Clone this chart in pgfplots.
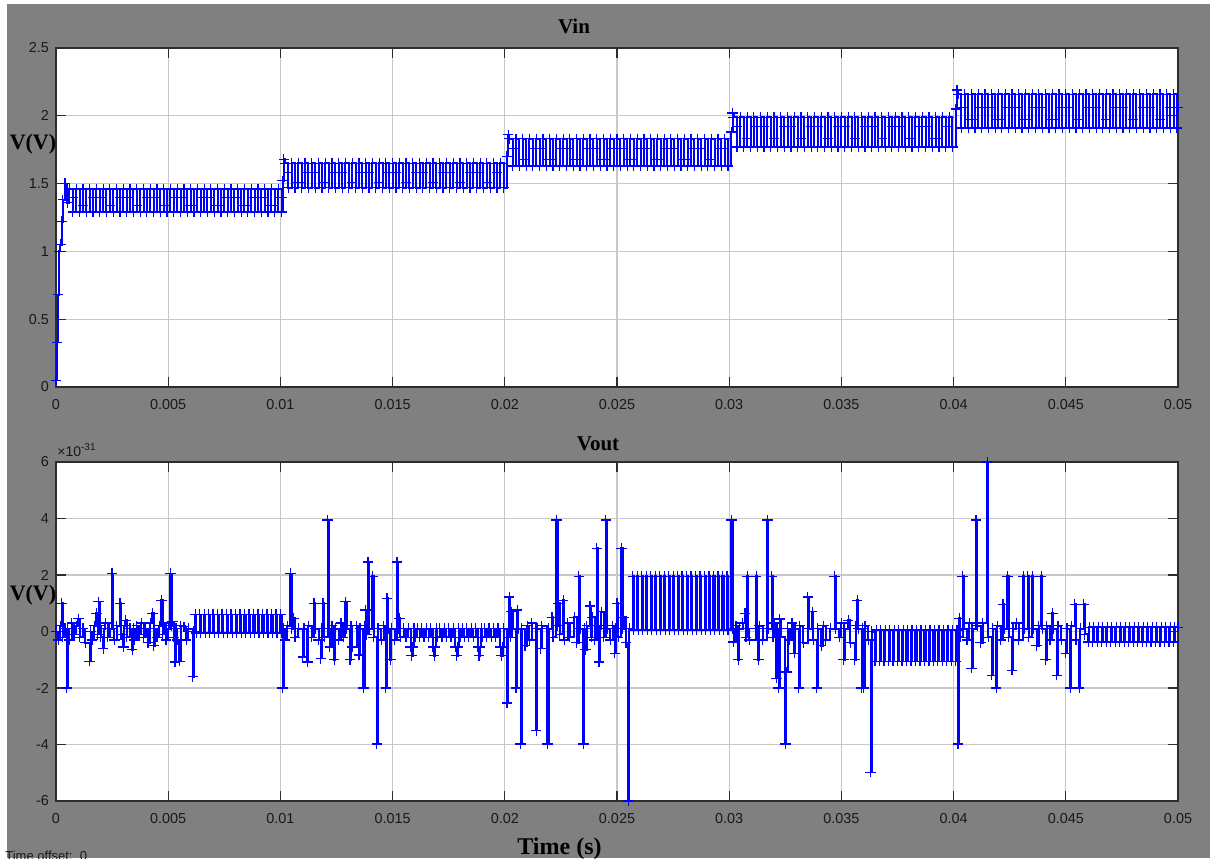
\documentclass[border=0pt]{standalone}
\usepackage{fontspec}
\setmainfont{Liberation Sans}
\newfontfamily\timesfont{Liberation Serif}
\usepackage{pgfplots}
\pgfplotsset{compat=1.18}
\definecolor{bggray}{RGB}{128,128,128}
\definecolor{gridgray}{RGB}{200,200,200}
\definecolor{axdark}{RGB}{45,45,45}
\definecolor{lblack}{RGB}{25,25,25}
\pgfplotsset{scopestyle/.style={
  scale only axis, width=561pt, height=169.5pt,
  anchor=south west,
  xmin=0, xmax=0.05,
  axis background/.style={fill=white},
  axis line style={axdark, line width=0.8pt},
  grid=major, major grid style={gridgray, line width=0.6pt},
  tick align=inside, tick pos=both, major tick length=5pt,
  tick style={axdark, line width=0.6pt},
  xtick={0,0.005,0.01,0.015,0.02,0.025,0.03,0.035,0.04,0.045,0.05},
  xticklabels={0,0.005,0.01,0.015,0.02,0.025,0.03,0.035,0.04,0.045,0.05},
  ticklabel style={font=\fontsize{7.2}{8}\selectfont, text=lblack},
  xticklabel style={yshift=-2.5pt},
  scaled ticks=false,
},
sig/.style={blue, line width=1.0pt, const plot, mark=+, mark size=2.6pt, mark options={blue, line width=0.6pt, solid}}}
\begin{document}
\begin{tikzpicture}
\useasboundingbox (0,0) rectangle (605pt,429pt);
\clip (0,0) rectangle (605pt,429pt);
\fill[white] (0,0) rectangle (605pt,429pt);
\fill[bggray] (3.5pt,0) rectangle (605pt,427pt);
\begin{axis}[scopestyle, at={(28pt,235.5pt)}, ymin=0, ymax=2.5,
  ytick={0,0.5,1,1.5,2,2.5}, yticklabels={0,0.5,1,1.5,2,2.5}]
\addplot[sig] coordinates {
(0,0.05)(0.00005,0.33)(0.0001,0.68)(0.00015,1.0)(0.0002,1.05)(0.00025,1.22)(0.0003,1.38)(0.0004,1.5)(0.0005,1.36)
(0.0006,1.46)(0.00075,1.40)(0.00075,1.29)(0.0009,1.46)(0.00105,1.29)(0.0012,1.34)(0.0012,1.46)(0.00135,1.29)(0.0015,1.46)(0.00165,1.40)(0.00165,1.29)
(0.0018,1.46)(0.00195,1.40)(0.00195,1.29)(0.0021,1.46)(0.00225,1.29)(0.0024,1.34)(0.0024,1.46)(0.00255,1.29)(0.0027,1.46)(0.00285,1.40)(0.00285,1.29)
(0.0030,1.46)(0.00315,1.40)(0.00315,1.29)(0.0033,1.46)(0.00345,1.29)(0.0036,1.34)(0.0036,1.46)(0.00375,1.29)(0.0039,1.46)(0.00405,1.40)(0.00405,1.29)
(0.0042,1.46)(0.00435,1.40)(0.00435,1.29)(0.0045,1.46)(0.00465,1.29)(0.0048,1.34)(0.0048,1.46)(0.00495,1.29)(0.0051,1.46)(0.00525,1.40)(0.00525,1.29)
(0.0054,1.46)(0.00555,1.40)(0.00555,1.29)(0.0057,1.46)(0.00585,1.29)(0.0060,1.34)(0.0060,1.46)(0.00615,1.29)(0.0063,1.46)(0.00645,1.40)(0.00645,1.29)
(0.0066,1.46)(0.00675,1.40)(0.00675,1.29)(0.0069,1.46)(0.00705,1.29)(0.0072,1.34)(0.0072,1.46)(0.00735,1.29)(0.0075,1.46)(0.00765,1.40)(0.00765,1.29)
(0.0078,1.46)(0.00795,1.40)(0.00795,1.29)(0.0081,1.46)(0.00825,1.29)(0.0084,1.34)(0.0084,1.46)(0.00855,1.29)(0.0087,1.46)(0.00885,1.40)(0.00885,1.29)
(0.0090,1.46)(0.00915,1.40)(0.00915,1.29)(0.0093,1.46)(0.00945,1.29)(0.0096,1.34)(0.0096,1.46)(0.00975,1.29)(0.0099,1.46)(0.01005,1.40)(0.01005,1.29)
(0.0101,1.52)(0.01015,1.68)
(0.0102,1.65)(0.01035,1.58)(0.01035,1.47)(0.0105,1.65)(0.01065,1.47)(0.0108,1.51)(0.0108,1.65)(0.01095,1.47)(0.0111,1.65)(0.01125,1.58)(0.01125,1.47)
(0.0114,1.65)(0.01155,1.58)(0.01155,1.47)(0.0117,1.65)(0.01185,1.47)(0.0120,1.51)(0.0120,1.65)(0.01215,1.47)(0.0123,1.65)(0.01245,1.58)(0.01245,1.47)
(0.0126,1.65)(0.01275,1.58)(0.01275,1.47)(0.0129,1.65)(0.01305,1.47)(0.0132,1.51)(0.0132,1.65)(0.01335,1.47)(0.0135,1.65)(0.01365,1.58)(0.01365,1.47)
(0.0138,1.65)(0.01395,1.58)(0.01395,1.47)(0.0141,1.65)(0.01425,1.47)(0.0144,1.51)(0.0144,1.65)(0.01455,1.47)(0.0147,1.65)(0.01485,1.58)(0.01485,1.47)
(0.0150,1.65)(0.01515,1.58)(0.01515,1.47)(0.0153,1.65)(0.01545,1.47)(0.0156,1.51)(0.0156,1.65)(0.01575,1.47)(0.0159,1.65)(0.01605,1.58)(0.01605,1.47)
(0.0162,1.65)(0.01635,1.58)(0.01635,1.47)(0.0165,1.65)(0.01665,1.47)(0.0168,1.51)(0.0168,1.65)(0.01695,1.47)(0.0171,1.65)(0.01725,1.58)(0.01725,1.47)
(0.0174,1.65)(0.01755,1.58)(0.01755,1.47)(0.0177,1.65)(0.01785,1.47)(0.0180,1.51)(0.0180,1.65)(0.01815,1.47)(0.0183,1.65)(0.01845,1.58)(0.01845,1.47)
(0.0186,1.65)(0.01875,1.58)(0.01875,1.47)(0.0189,1.65)(0.01905,1.47)(0.0192,1.51)(0.0192,1.65)(0.01935,1.47)(0.0195,1.65)(0.01965,1.58)(0.01965,1.47)
(0.0198,1.65)(0.01995,1.47)
(0.0201,1.70)(0.02015,1.86)
(0.0202,1.83)(0.02035,1.76)(0.02035,1.63)(0.0205,1.83)(0.02065,1.63)(0.0208,1.68)(0.0208,1.83)(0.02095,1.63)(0.0211,1.83)(0.02125,1.76)(0.02125,1.63)
(0.0214,1.83)(0.02155,1.76)(0.02155,1.63)(0.0217,1.83)(0.02185,1.63)(0.0220,1.68)(0.0220,1.83)(0.02215,1.63)(0.0223,1.83)(0.02245,1.76)(0.02245,1.63)
(0.0226,1.83)(0.02275,1.76)(0.02275,1.63)(0.0229,1.83)(0.02305,1.63)(0.0232,1.68)(0.0232,1.83)(0.02335,1.63)(0.0235,1.83)(0.02365,1.76)(0.02365,1.63)
(0.0238,1.83)(0.02395,1.76)(0.02395,1.63)(0.0241,1.83)(0.02425,1.63)(0.0244,1.68)(0.0244,1.83)(0.02455,1.63)(0.0247,1.83)(0.02485,1.76)(0.02485,1.63)
(0.0250,1.83)(0.02515,1.76)(0.02515,1.63)(0.0253,1.83)(0.02545,1.63)(0.0256,1.68)(0.0256,1.83)(0.02575,1.63)(0.0259,1.83)(0.02605,1.76)(0.02605,1.63)
(0.0262,1.83)(0.02635,1.76)(0.02635,1.63)(0.0265,1.83)(0.02665,1.63)(0.0268,1.68)(0.0268,1.83)(0.02695,1.63)(0.0271,1.83)(0.02725,1.76)(0.02725,1.63)
(0.0274,1.83)(0.02755,1.76)(0.02755,1.63)(0.0277,1.83)(0.02785,1.63)(0.0280,1.68)(0.0280,1.83)(0.02815,1.63)(0.0283,1.83)(0.02845,1.76)(0.02845,1.63)
(0.0286,1.83)(0.02875,1.76)(0.02875,1.63)(0.0289,1.83)(0.02905,1.63)(0.0292,1.68)(0.0292,1.83)(0.02935,1.63)(0.0295,1.83)(0.02965,1.76)(0.02965,1.63)
(0.0298,1.83)(0.02995,1.63)
(0.0301,1.88)(0.03015,2.02)
(0.0302,1.99)(0.03035,1.92)(0.03035,1.77)(0.0305,1.99)(0.03065,1.77)(0.0308,1.83)(0.0308,1.99)(0.03095,1.77)(0.0311,1.99)(0.03125,1.92)(0.03125,1.77)
(0.0314,1.99)(0.03155,1.92)(0.03155,1.77)(0.0317,1.99)(0.03185,1.77)(0.0320,1.83)(0.0320,1.99)(0.03215,1.77)(0.0323,1.99)(0.03245,1.92)(0.03245,1.77)
(0.0326,1.99)(0.03275,1.92)(0.03275,1.77)(0.0329,1.99)(0.03305,1.77)(0.0332,1.83)(0.0332,1.99)(0.03335,1.77)(0.0335,1.99)(0.03365,1.92)(0.03365,1.77)
(0.0338,1.99)(0.03395,1.92)(0.03395,1.77)(0.0341,1.99)(0.03425,1.77)(0.0344,1.83)(0.0344,1.99)(0.03455,1.77)(0.0347,1.99)(0.03485,1.92)(0.03485,1.77)
(0.0350,1.99)(0.03515,1.92)(0.03515,1.77)(0.0353,1.99)(0.03545,1.77)(0.0356,1.83)(0.0356,1.99)(0.03575,1.77)(0.0359,1.99)(0.03605,1.92)(0.03605,1.77)
(0.0362,1.99)(0.03635,1.92)(0.03635,1.77)(0.0365,1.99)(0.03665,1.77)(0.0368,1.83)(0.0368,1.99)(0.03695,1.77)(0.0371,1.99)(0.03725,1.92)(0.03725,1.77)
(0.0374,1.99)(0.03755,1.92)(0.03755,1.77)(0.0377,1.99)(0.03785,1.77)(0.0380,1.83)(0.0380,1.99)(0.03815,1.77)(0.0383,1.99)(0.03845,1.92)(0.03845,1.77)
(0.0386,1.99)(0.03875,1.92)(0.03875,1.77)(0.0389,1.99)(0.03905,1.77)(0.0392,1.83)(0.0392,1.99)(0.03935,1.77)(0.0395,1.99)(0.03965,1.92)(0.03965,1.77)
(0.0398,1.99)(0.03995,1.77)
(0.0401,2.05)(0.04015,2.19)
(0.0402,2.16)(0.04035,2.06)(0.04035,1.91)(0.0405,2.16)(0.04065,1.91)(0.0408,1.97)(0.0408,2.16)(0.04095,1.91)(0.0411,2.16)(0.04125,2.06)(0.04125,1.91)
(0.0414,2.16)(0.04155,2.06)(0.04155,1.91)(0.0417,2.16)(0.04185,1.91)(0.0420,1.97)(0.0420,2.16)(0.04215,1.91)(0.0423,2.16)(0.04245,2.06)(0.04245,1.91)
(0.0426,2.16)(0.04275,2.06)(0.04275,1.91)(0.0429,2.16)(0.04305,1.91)(0.0432,1.97)(0.0432,2.16)(0.04335,1.91)(0.0435,2.16)(0.04365,2.06)(0.04365,1.91)
(0.0438,2.16)(0.04395,2.06)(0.04395,1.91)(0.0441,2.16)(0.04425,1.91)(0.0444,1.97)(0.0444,2.16)(0.04455,1.91)(0.0447,2.16)(0.04485,2.06)(0.04485,1.91)
(0.0450,2.16)(0.04515,2.06)(0.04515,1.91)(0.0453,2.16)(0.04545,1.91)(0.0456,1.97)(0.0456,2.16)(0.04575,1.91)(0.0459,2.16)(0.04605,2.06)(0.04605,1.91)
(0.0462,2.16)(0.04635,2.06)(0.04635,1.91)(0.0465,2.16)(0.04665,1.91)(0.0468,1.97)(0.0468,2.16)(0.04695,1.91)(0.0471,2.16)(0.04725,2.06)(0.04725,1.91)
(0.0474,2.16)(0.04755,2.06)(0.04755,1.91)(0.0477,2.16)(0.04785,1.91)(0.0480,1.97)(0.0480,2.16)(0.04815,1.91)(0.0483,2.16)(0.04845,2.06)(0.04845,1.91)
(0.0486,2.16)(0.04875,2.06)(0.04875,1.91)(0.0489,2.16)(0.04905,1.91)(0.0492,1.97)(0.0492,2.16)(0.04935,1.91)(0.0495,2.16)(0.04965,2.06)(0.04965,1.91)
(0.0498,2.16)(0.04995,1.91)(0.0500,2.06)
};
\end{axis}
\begin{axis}[scopestyle, at={(28pt,28.5pt)}, ymin=-6, ymax=6,
  ytick={-6,-4,-2,0,2,4,6}, yticklabels={-6,-4,-2,0,2,4,6}]
\addplot[sig] coordinates {
(0,0)(0.0001,-0.3)(0.0002,0.2)(0.00025,1.0)(0.0003,-0.2)(0.0004,0.1)(0.00048,-2.0)(0.00052,0.1)
(0.0006,-0.3)(0.0007,0.3)(0.0008,-0.1)(0.0009,0.2)(0.001,0.45)(0.00105,-0.2)(0.0012,0.1)(0.0013,-0.4)
(0.0015,-1.05)(0.00155,0)(0.0016,-0.3)(0.0017,0.2)(0.0018,0.65)(0.00185,-0.1)(0.0019,1.05)(0.00195,0.2)
(0.002,-0.2)(0.0021,-0.6)(0.00215,0.1)(0.0022,0.3)(0.0023,-0.2)(0.0024,0.1)(0.0025,2.05)(0.00255,0.1)
(0.0026,-0.3)(0.0027,0.2)(0.00285,1.0)(0.0029,-0.1)(0.003,-0.55)(0.00305,0.2)(0.0031,0.4)(0.00315,-0.2)
(0.0033,0.1)(0.0034,-0.65)(0.00345,0.1)(0.0035,-0.3)(0.0036,0.2)(0.0037,-0.1)(0.0038,0.3)(0.0039,-0.2)
(0.004,0.1)(0.0041,-0.4)(0.0042,0.3)(0.0043,0.65)(0.00435,-0.5)(0.0044,0.1)(0.0045,-0.2)(0.0046,0.2)
(0.0047,1.1)(0.00475,-0.1)(0.0048,0.3)(0.0049,-0.3)(0.005,0.1)(0.0051,2.05)(0.00515,0.2)(0.0052,0.35)
(0.00525,-0.2)(0.0053,-1.08)(0.00535,0.1)(0.0054,-0.3)(0.0055,-1.05)(0.00555,0.2)(0.0057,0.17)(0.0058,-0.3)
(0.0059,0.1)(0.0061,-1.6)(0.00615,0)
(0.0062,0.6)(0.00625,-0.05)(0.0064,0.6)(0.00645,-0.05)(0.0066,0.6)(0.00665,-0.05)(0.0068,0.6)(0.00685,-0.05)
(0.007,0.6)(0.00705,-0.05)(0.0072,0.6)(0.00725,-0.05)(0.0074,0.6)(0.00745,-0.05)(0.0076,0.6)(0.00765,-0.05)
(0.0078,0.6)(0.00785,-0.05)(0.008,0.6)(0.00805,-0.05)(0.0082,0.6)(0.00825,-0.05)(0.0084,0.6)(0.00845,-0.05)
(0.0086,0.6)(0.00865,-0.05)(0.0088,0.6)(0.00885,-0.05)(0.009,0.6)(0.00905,-0.05)(0.0092,0.6)(0.00925,-0.05)
(0.0094,0.6)(0.00945,-0.05)(0.0096,0.6)(0.00965,-0.05)(0.0098,0.6)(0.00985,-0.05)(0.01,0.6)(0.01005,-0.05)
(0.0101,-2.0)(0.01015,0.1)(0.0102,-0.3)(0.0103,0.2)(0.01045,2.05)(0.0105,0.1)(0.0106,0.47)(0.01065,-0.2)
(0.0108,0.1)(0.011,-0.9)(0.01105,0.1)(0.0112,-1.08)(0.01125,0.2)(0.0114,-0.2)(0.0115,1.0)(0.01155,0.1)
(0.0117,-0.3)(0.0118,-0.95)(0.01185,0.1)(0.0119,1.0)(0.01195,-0.2)(0.0121,3.95)(0.01215,0.1)
(0.0122,-0.55)(0.0123,0.2)(0.0124,-1.0)(0.01245,0.1)(0.0126,-0.3)(0.0127,0.3)(0.0128,-0.2)
(0.0129,1.05)(0.01295,0.1)(0.0131,-1.0)(0.01315,0.2)(0.0132,-0.55)(0.0134,0.2)(0.0135,-0.83)(0.01355,0.1)
(0.0137,-2.0)(0.01375,0.2)(0.0138,0.76)(0.01385,-0.1)(0.0139,2.46)(0.01395,0.1)(0.0141,1.96)(0.01415,-0.2)
(0.0143,-3.98)(0.01435,0.1)(0.0145,-0.3)(0.0146,0.2)(0.0147,-2.0)(0.01475,1.18)(0.0148,0.1)
(0.0149,-1.0)(0.01495,0.1)(0.0151,-0.3)(0.0152,2.46)(0.01525,0.1)(0.0153,0.47)(0.01535,-0.2)
(0.0155,0.1)(0.0156,-0.2)(0.0157,0.1)(0.0158,-0.55)(0.01585,-0.85)(0.0159,-0.55)(0.01595,0.1)(0.016,-0.2)(0.0161,0.1)(0.0162,-0.2)(0.0163,0.1)(0.0164,-0.2)(0.0165,0.1)(0.0166,-0.2)(0.0167,0.1)
(0.0168,-0.55)(0.01685,-0.85)(0.0169,-0.55)(0.01695,0.1)(0.017,-0.2)(0.0171,0.1)(0.0172,-0.2)(0.0173,0.1)(0.0174,-0.2)(0.0175,0.1)(0.0176,-0.2)(0.0177,0.1)
(0.0178,-0.55)(0.01785,-0.85)(0.0179,-0.55)(0.01795,0.1)(0.018,-0.2)(0.0181,0.1)(0.0182,-0.2)(0.0183,0.1)(0.0184,-0.2)(0.0185,0.1)(0.0186,-0.2)(0.0187,0.1)
(0.0188,-0.55)(0.01885,-0.85)(0.0189,-0.55)(0.01895,0.1)(0.019,-0.2)(0.0191,0.1)(0.0192,-0.2)(0.0193,0.1)(0.0194,-0.2)(0.0195,0.1)(0.0196,-0.2)(0.0197,0.1)
(0.0198,-0.55)(0.01985,-0.85)(0.0199,-0.55)(0.01995,0.1)
(0.0201,-2.53)(0.02015,0.1)(0.0202,1.22)(0.02025,-0.2)(0.0203,0.7)(0.02035,0.1)(0.0205,-2.0)(0.02055,0.76)(0.0206,0.1)
(0.0207,-3.98)(0.02075,0.1)(0.0209,-0.5)(0.021,0.2)(0.0211,-0.3)(0.0212,0.3)(0.0214,-3.5)(0.02145,0.1)
(0.0216,-0.6)(0.02165,0.2)(0.0219,-3.98)(0.02195,0.1)(0.0221,0.5)(0.02215,-0.2)(0.0223,3.95)(0.02235,0.2)
(0.0224,1.0)(0.02245,-0.1)(0.0226,1.1)(0.02265,-0.3)(0.0228,0.3)(0.0229,-0.2)(0.0231,0.5)(0.0232,-0.4)
(0.0233,1.96)(0.02335,0.1)(0.0235,-3.98)(0.02355,0.1)(0.0236,-0.65)(0.02365,0.2)(0.0238,0.9)(0.02385,-0.2)
(0.0239,0.5)(0.024,-0.3)(0.0241,2.95)(0.02415,0.2)(0.0242,-1.08)(0.02425,0.1)(0.0243,0.7)(0.0244,-0.2)
(0.0245,3.95)(0.02455,0.1)(0.0247,-0.3)(0.0248,0.2)(0.0249,-0.77)(0.02495,0.1)(0.025,1.0)(0.02505,-0.2)
(0.0252,2.95)(0.02525,0.1)(0.0253,0.5)(0.0254,-0.4)(0.0255,-6.0)(0.02555,0.1)
(0.0257,1.96)(0.02575,0.05)(0.0259,1.96)(0.02595,0.05)(0.0261,1.96)(0.02615,0.05)(0.0263,1.96)(0.02635,0.05)
(0.0265,1.96)(0.02655,0.05)(0.0267,1.96)(0.02675,0.05)(0.0269,1.96)(0.02695,0.05)(0.0271,1.96)(0.02715,0.05)
(0.0273,1.96)(0.02735,0.05)(0.0275,1.96)(0.02755,0.05)(0.0277,1.96)(0.02775,0.05)(0.0279,1.96)(0.02795,0.05)
(0.0281,1.96)(0.02815,0.05)(0.0283,1.96)(0.02835,0.05)(0.0285,1.96)(0.02855,0.05)(0.0287,1.96)(0.02875,0.05)
(0.0289,1.96)(0.02895,0.05)(0.0291,1.96)(0.02915,0.05)(0.0293,1.96)(0.02935,0.05)(0.0295,1.96)(0.02955,0.05)
(0.0297,1.96)(0.02975,0.05)(0.0299,1.96)(0.02995,0.05)
(0.0301,3.95)(0.03015,0.1)(0.0302,-0.37)(0.0303,0.2)(0.0304,-1.0)(0.03045,0.1)(0.0306,0.3)(0.0307,0.65)(0.03075,-0.2)
(0.0308,1.96)(0.03085,0.1)(0.0309,-0.3)(0.0312,1.96)(0.03125,0.1)(0.0313,-1.0)(0.03135,0.2)(0.0315,-0.3)
(0.0317,3.95)(0.03175,0.1)(0.0319,1.96)(0.03195,-0.2)(0.032,0.3)(0.0321,-1.65)(0.03215,0.1)
(0.0322,-2.0)(0.03225,0.44)(0.0323,-0.2)(0.0325,-3.98)(0.03255,-1.43)(0.0326,0.1)(0.0327,-0.3)(0.0328,0.3)
(0.0329,-0.77)(0.03295,0.1)(0.0331,-2.0)(0.03315,0.2)(0.0333,-0.4)(0.0335,1.22)(0.03355,0.1)
(0.0337,0.7)(0.03375,-0.3)(0.0339,-2.0)(0.03395,0.1)(0.0341,-0.5)(0.0342,0.2)(0.0343,-0.3)(0.0345,0.1)
(0.0347,1.96)(0.03475,0.1)(0.0349,-0.2)(0.035,0.3)(0.0351,-1.0)(0.03515,0.1)(0.0353,0.4)(0.0354,-0.4)
(0.0356,-1.0)(0.03565,0.2)(0.0357,1.1)(0.03575,0.1)(0.0359,-2.0)(0.03595,0.1)(0.036,-2.0)(0.03605,0.2)
(0.0362,-0.3)(0.0363,-4.98)(0.03635,0.0)
(0.0365,-1.05)(0.03655,0.05)(0.0367,-1.05)(0.03675,0.05)(0.0369,-1.05)(0.03695,0.05)(0.0371,-1.05)(0.03715,0.05)
(0.0373,-1.05)(0.03735,0.05)(0.0375,-1.05)(0.03755,0.05)(0.0377,-1.05)(0.03775,0.05)(0.0379,-1.05)(0.03795,0.05)
(0.0381,-1.05)(0.03815,0.05)(0.0383,-1.05)(0.03835,0.05)(0.0385,-1.05)(0.03855,0.05)(0.0387,-1.05)(0.03875,0.05)
(0.0389,-1.05)(0.03895,0.05)(0.0391,-1.05)(0.03915,0.05)(0.0393,-1.05)(0.03935,0.05)(0.0395,-1.05)(0.03955,0.05)
(0.0397,-1.05)(0.03975,0.05)(0.0399,-1.05)(0.03995,0.05)(0.0401,-1.05)(0.04015,0.05)
(0.0402,-3.98)(0.04025,0.47)(0.0403,-0.2)(0.0404,1.96)(0.04045,0.1)(0.0406,-0.3)(0.0407,0.3)
(0.0408,-1.3)(0.04085,0.1)(0.041,3.95)(0.04105,0.2)(0.0412,-0.4)(0.0413,0.3)(0.0415,6.0)(0.04155,-0.2)
(0.0417,-1.55)(0.04175,0.1)(0.0419,-2.0)(0.04195,0.2)(0.0421,-0.3)(0.0422,0.97)(0.04225,0.1)
(0.0424,1.96)(0.04245,-0.2)(0.0426,-1.37)(0.04265,0.1)(0.0428,0.3)(0.0429,-0.3)(0.0431,1.96)(0.04315,0.1)
(0.0433,1.96)(0.04335,-0.2)(0.0435,1.96)(0.04355,0.1)(0.0437,-0.5)(0.0438,0.2)(0.0439,1.96)(0.04395,0.1)
(0.0441,-1.0)(0.04415,0.2)(0.0443,-0.3)(0.0444,0.65)(0.04445,0.1)(0.0446,-1.55)(0.04465,0.2)(0.0448,-0.3)
(0.045,-0.77)(0.04505,0.1)(0.0452,-2.0)(0.04525,0.2)(0.0454,0.97)(0.04545,-0.3)(0.0456,-2.0)(0.04565,0.1)
(0.0458,0.97)(0.04585,-0.1)
(0.046,-0.37)(0.04605,0.15)(0.0462,-0.37)(0.04625,0.15)(0.0464,-0.37)(0.04645,0.15)(0.0466,-0.37)(0.04665,0.15)
(0.0468,-0.37)(0.04685,0.15)(0.047,-0.37)(0.04705,0.15)(0.0472,-0.37)(0.04725,0.15)(0.0474,-0.37)(0.04745,0.15)
(0.0476,-0.37)(0.04765,0.15)(0.0478,-0.37)(0.04785,0.15)(0.048,-0.37)(0.04805,0.15)(0.0482,-0.37)(0.04825,0.15)
(0.0484,-0.37)(0.04845,0.15)(0.0486,-0.37)(0.04865,0.15)(0.0488,-0.37)(0.04885,0.15)(0.049,-0.37)(0.04905,0.15)
(0.0492,-0.37)(0.04925,0.15)(0.0494,-0.37)(0.04945,0.15)(0.0496,-0.37)(0.04965,0.15)(0.0498,-0.37)(0.04985,0.15)(0.05,0.15)
};
\end{axis}
\node[font=\timesfont\bfseries\fontsize{10.5}{12}\selectfont, text=black] at (287pt,416pt) {Vin};
\node[font=\timesfont\bfseries\fontsize{10.5}{12}\selectfont, text=black] at (299pt,207pt) {Vout};
\node[font=\timesfont\bfseries\fontsize{11}{12}\selectfont, text=black, inner sep=0pt] at (16.5pt,357pt) {V(V)};
\node[font=\timesfont\bfseries\fontsize{11}{12}\selectfont, text=black, inner sep=0pt] at (16.5pt,131.5pt) {V(V)};
\node[font=\timesfont\bfseries\fontsize{12}{14}\selectfont, text=black, anchor=base, inner sep=0pt] at (279.75pt,1.8pt) {Time (s)};
\node[font=\fontsize{6.5}{8}\selectfont, text=lblack, anchor=base west, inner sep=0pt] at (2.5pt,-1.3pt) {Time offset:\ \ 0};
\node[font=\fontsize{7}{8}\selectfont, text=lblack, anchor=base west, inner sep=0pt] at (28.5pt,200.5pt) {×10\textsuperscript{-31}};
\end{tikzpicture}
\end{document}
